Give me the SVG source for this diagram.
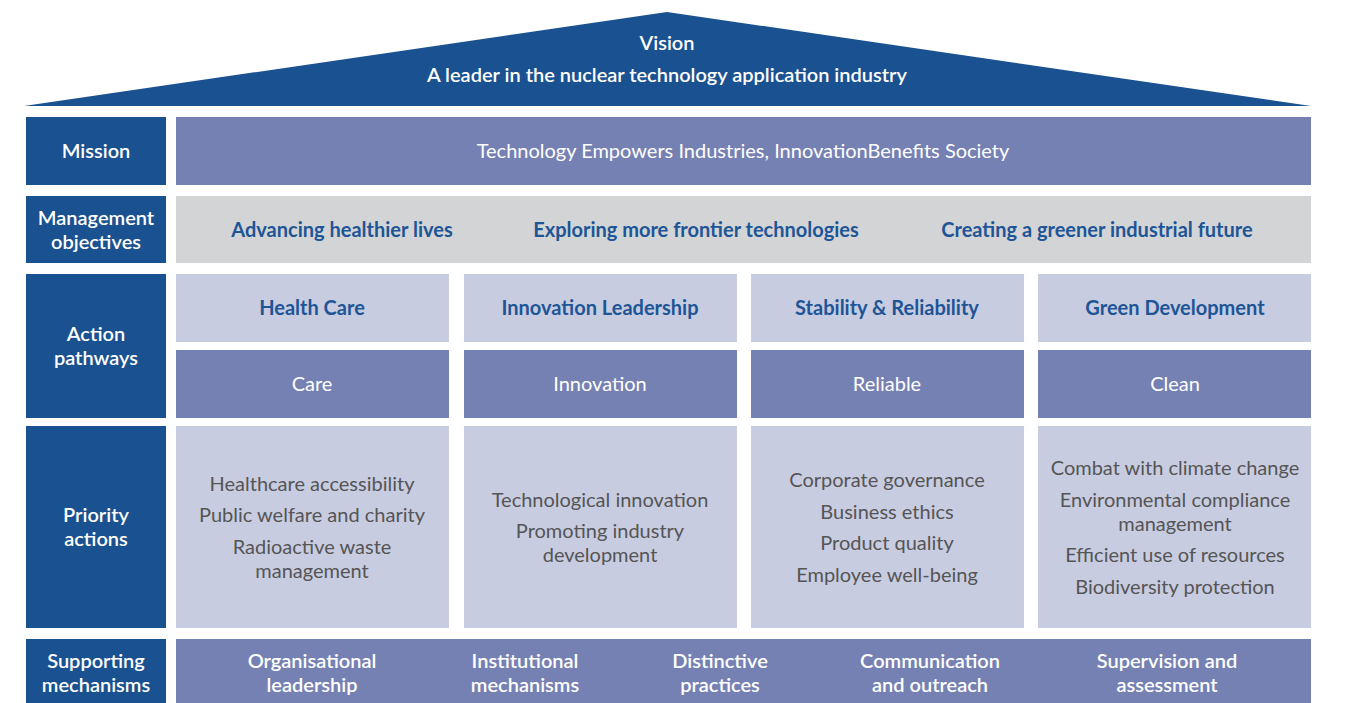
<svg xmlns="http://www.w3.org/2000/svg" width="1348" height="703" viewBox="0 0 1348 703">
<style>
text{font-family:Lato,"Noto Sans","Liberation Sans",sans-serif;font-size:20px;text-anchor:middle}
.dk{fill:#1a5190}
.md{fill:#7681b3}
.lt{fill:#c8cce1}
.gy{fill:#d3d4d6}
.w{fill:#ffffff}
.b{fill:#1d5596;font-weight:700}
.g{fill:#555555}
.s{font-weight:600}
</style>
<rect width="1348" height="703" fill="#ffffff"/>
<g id="roof">
<polygon class="dk" points="24,106 667,12 1311,106"/>
<text class="w s" x="667" y="50">Vision</text>
<text class="w s" x="667" y="82">A leader in the nuclear technology application industry</text>
</g>
<g id="mission">
<rect class="dk" x="26" y="117" width="140" height="68"/>
<text class="w s" x="96" y="158">Mission</text>
<rect class="md" x="176" y="117" width="1135" height="68"/>
<text class="w" x="743" y="158">Technology Empowers Industries, InnovationBenefits Society</text>
</g>
<g id="management">
<rect class="dk" x="26" y="196" width="140" height="67"/>
<text class="w s" x="96" y="225">Management</text>
<text class="w s" x="96" y="249">objectives</text>
<rect class="gy" x="176" y="196" width="1135" height="67"/>
<text class="b" x="342" y="237">Advancing healthier lives</text>
<text class="b" x="696" y="237">Exploring more frontier technologies</text>
<text class="b" x="1097" y="237">Creating a greener industrial future</text>
</g>
<g id="action-pathways">
<rect class="dk" x="26" y="274" width="140" height="144"/>
<text class="w s" x="96" y="341">Action</text>
<text class="w s" x="96" y="365">pathways</text>
<rect class="lt" x="176" y="274" width="273" height="68"/>
<rect class="lt" x="464" y="274" width="273" height="68"/>
<rect class="lt" x="751" y="274" width="273" height="68"/>
<rect class="lt" x="1038" y="274" width="273" height="68"/>
<text class="b" x="312" y="315">Health Care</text>
<text class="b" x="600" y="315">Innovation Leadership</text>
<text class="b" x="887" y="315">Stability &amp; Reliability</text>
<text class="b" x="1175" y="315">Green Development</text>
<rect class="md" x="176" y="350" width="273" height="68"/>
<rect class="md" x="464" y="350" width="273" height="68"/>
<rect class="md" x="751" y="350" width="273" height="68"/>
<rect class="md" x="1038" y="350" width="273" height="68"/>
<text class="w" x="312" y="391">Care</text>
<text class="w" x="600" y="391">Innovation</text>
<text class="w" x="887" y="391">Reliable</text>
<text class="w" x="1175" y="391">Clean</text>
</g>
<g id="priority-actions">
<rect class="dk" x="26" y="426" width="140" height="202"/>
<text class="w s" x="96" y="522">Priority</text>
<text class="w s" x="96" y="546">actions</text>
<rect class="lt" x="176" y="426" width="273" height="202"/>
<rect class="lt" x="464" y="426" width="273" height="202"/>
<rect class="lt" x="751" y="426" width="273" height="202"/>
<rect class="lt" x="1038" y="426" width="273" height="202"/>
<text class="g" x="312" y="491">Healthcare accessibility</text>
<text class="g" x="312" y="522">Public welfare and charity</text>
<text class="g" x="312" y="554">Radioactive waste</text>
<text class="g" x="312" y="578">management</text>
<text class="g" x="600" y="507">Technological innovation</text>
<text class="g" x="600" y="538">Promoting industry</text>
<text class="g" x="600" y="562">development</text>
<text class="g" x="887" y="487">Corporate governance</text>
<text class="g" x="887" y="519">Business ethics</text>
<text class="g" x="887" y="550">Product quality</text>
<text class="g" x="887" y="582">Employee well-being</text>
<text class="g" x="1175" y="475">Combat with climate change</text>
<text class="g" x="1175" y="507">Environmental compliance</text>
<text class="g" x="1175" y="531">management</text>
<text class="g" x="1175" y="562">Efficient use of resources</text>
<text class="g" x="1175" y="594">Biodiversity protection</text>
</g>
<g id="supporting-mechanisms">
<rect class="dk" x="26" y="639" width="140" height="70"/>
<text class="w s" x="96" y="668">Supporting</text>
<text class="w s" x="96" y="692">mechanisms</text>
<rect class="md" x="176" y="639" width="1135" height="70"/>
<text class="w s" x="312" y="668">Organisational</text>
<text class="w s" x="312" y="692">leadership</text>
<text class="w s" x="525" y="668">Institutional</text>
<text class="w s" x="525" y="692">mechanisms</text>
<text class="w s" x="720" y="668">Distinctive</text>
<text class="w s" x="720" y="692">practices</text>
<text class="w s" x="930" y="668">Communication</text>
<text class="w s" x="930" y="692">and outreach</text>
<text class="w s" x="1167" y="668">Supervision and</text>
<text class="w s" x="1167" y="692">assessment</text>
</g>
<g id="connectors"></g>
</svg>
